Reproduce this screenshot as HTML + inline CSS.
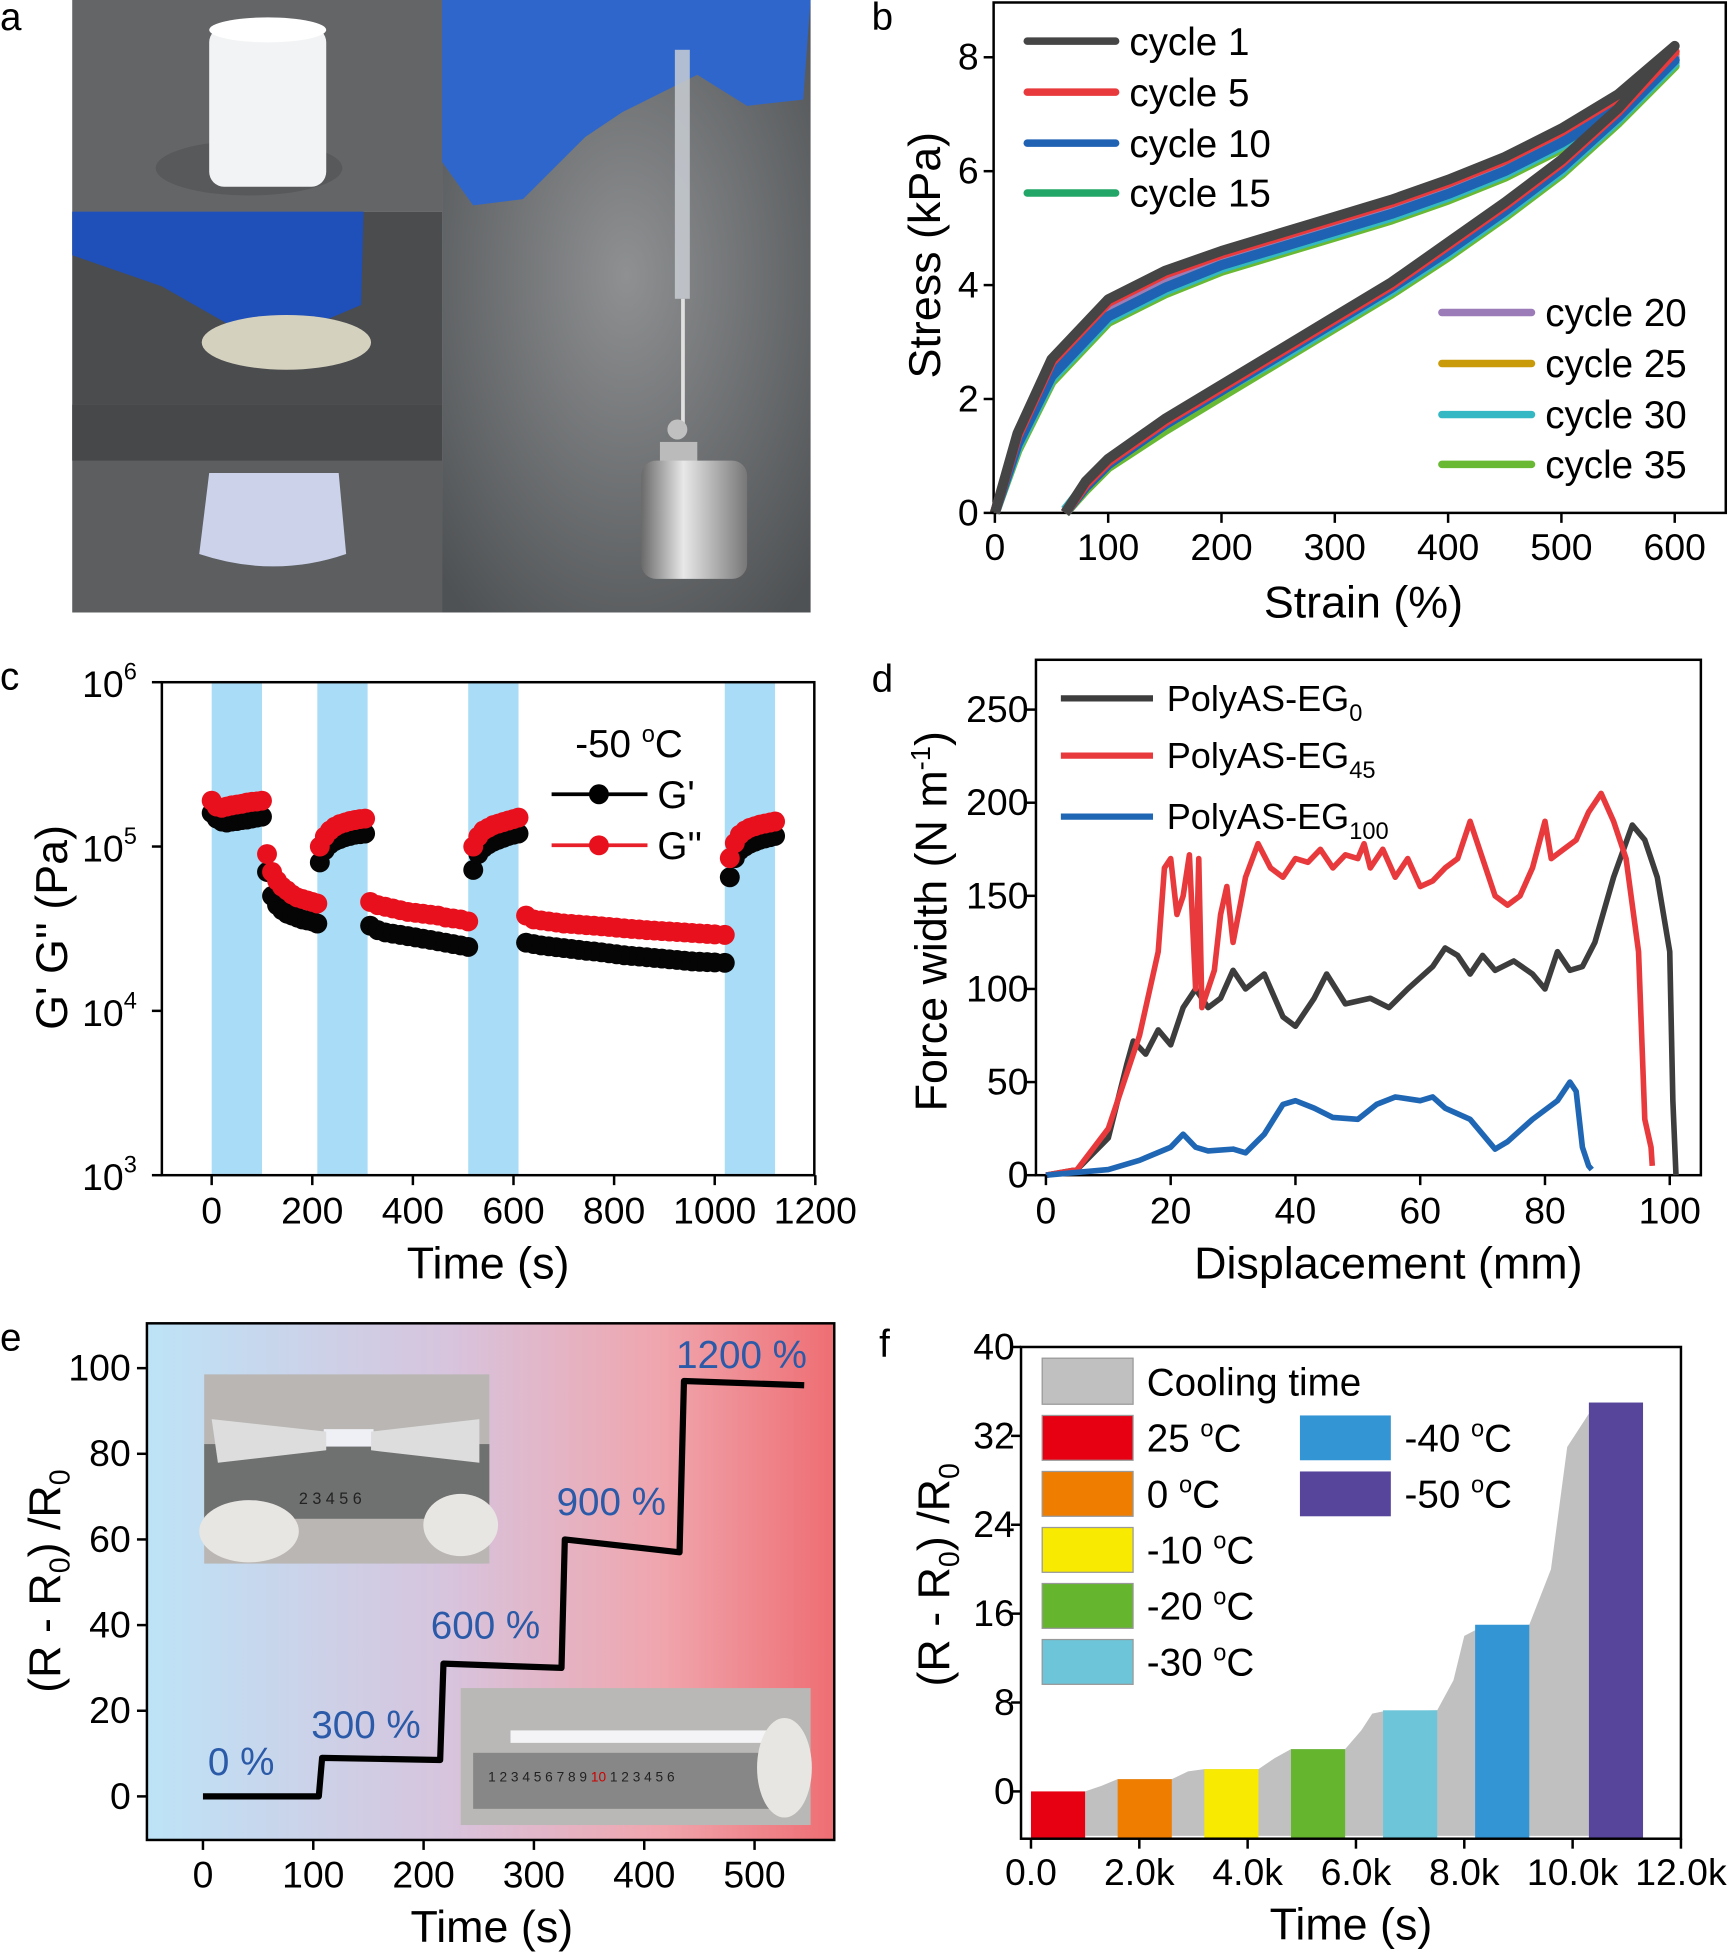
<!DOCTYPE html>
<html><head><meta charset="utf-8"><style>
html,body{margin:0;padding:0;background:#fff;}
svg{display:block;font-family:"Liberation Sans",Arial,sans-serif;}
</style></head><body>
<svg id="fig" xmlns="http://www.w3.org/2000/svg" width="1732" height="1952" viewBox="0 0 1391 1568" preserveAspectRatio="none">
<defs>
<linearGradient id="gradE" x1="0" x2="1" y1="0" y2="0">
<stop offset="0" stop-color="#bde3f7"/><stop offset="0.45" stop-color="#d8c3dc"/><stop offset="0.75" stop-color="#f0a5ad"/><stop offset="1" stop-color="#ee6e73"/></linearGradient>
<radialGradient id="bgR" cx="0.5" cy="0.45" r="0.7"><stop offset="0" stop-color="#8e9092"/><stop offset="1" stop-color="#4f5254"/></radialGradient>
<linearGradient id="metal" x1="0" x2="1"><stop offset="0" stop-color="#6a6a6a"/><stop offset="0.4" stop-color="#e8e8e8"/><stop offset="1" stop-color="#777"/></linearGradient>
</defs>

<text x="0" y="24" font-size="31">a</text>
<text x="700" y="24" font-size="31">b</text>
<text x="0" y="554" font-size="31">c</text>
<text x="700" y="556" font-size="31">d</text>
<text x="0" y="1085" font-size="31">e</text>
<text x="706" y="1090" font-size="31">f</text>

<g>
<rect x="58" y="0" width="297" height="170" fill="#646567"/>
<ellipse cx="200" cy="135" rx="75" ry="22" fill="#58595a"/>
<rect x="168" y="22" width="94" height="128" rx="12" fill="#f2f3f4"/>
<ellipse cx="215" cy="24" rx="47" ry="10" fill="#ffffff"/>
<rect x="58" y="170" width="297" height="155" fill="#4a4c4e"/>
<polygon points="58,170 292,170 290,245 250,262 200,270 130,230 58,205" fill="#1f4fb8"/>
<ellipse cx="230" cy="275" rx="68" ry="22" fill="#d5d1bf"/>
<rect x="58" y="325" width="297" height="167" fill="#5c5e60"/>
<rect x="58" y="325" width="297" height="45" fill="#46484a"/>
<path d="M168,380 L272,380 L278,445 Q220,465 160,445 Z" fill="#cbd2ea"/>
<rect x="355" y="0" width="296" height="492" fill="url(#bgR)"/>
<path d="M355,0 L651,0 L645,80 L600,85 L560,60 L500,90 L470,110 L420,160 L380,165 L355,130 Z" fill="#2f66cc"/>
<rect x="542" y="40" width="12" height="200" fill="#c8ccd2" opacity="0.85"/>
<rect x="547" y="240" width="3" height="100" fill="#e0e0e0"/>
<circle cx="544" cy="345" r="8" fill="#c0c0c0"/>
<rect x="530" y="355" width="30" height="22" fill="#bbb"/>
<rect x="515" y="370" width="85" height="95" rx="12" fill="url(#metal)"/>
</g>

<rect x="798" y="2" width="588" height="410" fill="none" stroke="#000" stroke-width="2"/>
<g id="b-marks"></g>
<g id="b-ticks"></g>
<text transform="translate(755,205) rotate(-90)" text-anchor="middle" font-size="36">Stress (kPa)</text>
<text x="1095" y="496" text-anchor="middle" font-size="36">Strain (%)</text>
<g font-size="31">
<line x1="825" x2="896" y1="33" y2="33" stroke="#454545" stroke-width="6" stroke-linecap="round"/><text x="907" y="44">cycle 1</text>
<line x1="825" x2="896" y1="74" y2="74" stroke="#e83a3c" stroke-width="6" stroke-linecap="round"/><text x="907" y="85">cycle 5</text>
<line x1="825" x2="896" y1="115" y2="115" stroke="#1f62b4" stroke-width="6" stroke-linecap="round"/><text x="907" y="126">cycle 10</text>
<line x1="825" x2="896" y1="155" y2="155" stroke="#22a667" stroke-width="6" stroke-linecap="round"/><text x="907" y="166">cycle 15</text>
<line x1="1158" x2="1230" y1="251" y2="251" stroke="#9b7bb8" stroke-width="6" stroke-linecap="round"/><text x="1241" y="262">cycle 20</text>
<line x1="1158" x2="1230" y1="292" y2="292" stroke="#c99a0a" stroke-width="6" stroke-linecap="round"/><text x="1241" y="303">cycle 25</text>
<line x1="1158" x2="1230" y1="333" y2="333" stroke="#34b8c4" stroke-width="6" stroke-linecap="round"/><text x="1241" y="344">cycle 30</text>
<line x1="1158" x2="1230" y1="373" y2="373" stroke="#6ab934" stroke-width="6" stroke-linecap="round"/><text x="1241" y="384">cycle 35</text>
</g>

<g id="c-bands"></g>
<g id="c-marks"></g>
<rect x="130" y="548" width="524" height="396" fill="none" stroke="#000" stroke-width="2"/>
<g id="c-ticks"></g>
<text transform="translate(54,745) rotate(-90)" text-anchor="middle" font-size="36">G' G'' (Pa)</text>
<text x="392" y="1027" text-anchor="middle" font-size="36">Time (s)</text>
<g font-size="31">
<text x="462" y="608">-50 <tspan font-size="19" dy="-12">o</tspan><tspan dy="12">C</tspan></text>
<line x1="443" x2="520" y1="638" y2="638" stroke="#000" stroke-width="3"/><circle cx="481" cy="638" r="8" fill="#000"/><text x="528" y="649">G'</text>
<line x1="443" x2="520" y1="679" y2="679" stroke="#e8202a" stroke-width="3"/><circle cx="481" cy="679" r="8" fill="#e8101c"/><text x="528" y="690">G''</text>
</g>

<rect x="832" y="530" width="534" height="414" fill="none" stroke="#000" stroke-width="2"/>
<g id="d-marks"></g>
<g id="d-ticks"></g>
<text transform="translate(760,740) rotate(-90)" text-anchor="middle" font-size="36">Force width (N m<tspan font-size="22" dy="-13">-1</tspan><tspan dy="13">)</tspan></text>
<text x="1115" y="1027" text-anchor="middle" font-size="36">Displacement (mm)</text>
<g font-size="29">
<line x1="852" x2="926" y1="561" y2="561" stroke="#3d3d3d" stroke-width="5"/><text x="937" y="571">PolyAS-EG<tspan font-size="19" dy="8">0</tspan></text>
<line x1="852" x2="926" y1="607" y2="607" stroke="#e83a3c" stroke-width="5"/><text x="937" y="617">PolyAS-EG<tspan font-size="19" dy="8">45</tspan></text>
<line x1="852" x2="926" y1="656" y2="656" stroke="#1f67b5" stroke-width="5"/><text x="937" y="666">PolyAS-EG<tspan font-size="19" dy="8">100</tspan></text>
</g>

<rect x="118" y="1063" width="552" height="415" fill="url(#gradE)"/>
<g>
<rect x="164" y="1104" width="229" height="152" fill="#b9b6b4"/>
<rect x="164" y="1160" width="229" height="60" fill="#6f7070"/>
<rect x="260" y="1148" width="40" height="14" fill="#eef0f5"/>
<polygon points="170,1140 262,1150 262,1165 175,1175" fill="#ddd"/>
<polygon points="298,1150 385,1140 385,1175 298,1165" fill="#ddd"/>
<ellipse cx="200" cy="1230" rx="40" ry="25" fill="#e8e6e2"/>
<ellipse cx="370" cy="1225" rx="30" ry="25" fill="#e8e6e2"/>
<text x="240" y="1208" font-size="13" fill="#222">2  3  4  5  6</text>
</g>
<g>
<rect x="370" y="1356" width="281" height="110" fill="#b9b8b6"/>
<rect x="380" y="1408" width="262" height="45" fill="#878787"/>
<rect x="410" y="1390" width="210" height="10" fill="#f4f4f6"/>
<text x="392" y="1431" font-size="11" fill="#222">1  2  3  4  5  6  7  8  9 <tspan fill="#c00">10</tspan> 1  2  3  4  5  6</text>
<ellipse cx="630" cy="1420" rx="22" ry="40" fill="#e8e6e2"/>
</g>
<g id="e-marks"></g>
<rect x="118" y="1063" width="552" height="415" fill="none" stroke="#000" stroke-width="2"/>
<g id="e-ticks"></g>
<g font-size="31" fill="#2a5aa8">
<text x="167" y="1426">0 %</text>
<text x="250" y="1396">300 %</text>
<text x="346" y="1316">600 %</text>
<text x="447" y="1217">900 %</text>
<text x="543" y="1099">1200 %</text>
</g>
<text transform="translate(48,1270) rotate(-90)" text-anchor="middle" font-size="36">(R - R<tspan font-size="23" dy="8">0</tspan><tspan dy="-8">) /R</tspan><tspan font-size="23" dy="8">0</tspan></text>
<text x="395" y="1560" text-anchor="middle" font-size="36">Time (s)</text>

<g id="f-marks"></g>
<rect x="820" y="1082" width="530" height="395" fill="none" stroke="#000" stroke-width="2"/>
<g id="f-ticks"></g>
<g font-size="31">
<rect x="837" y="1091" width="73" height="37" fill="#c0c0c0" stroke="#999"/><text x="921" y="1121">Cooling time</text>
<rect x="837" y="1137" width="73" height="36" fill="#e60012" stroke="#999"/><text x="921" y="1166">25 <tspan font-size="19" dy="-12">o</tspan><tspan dy="12">C</tspan></text>
<rect x="837" y="1182" width="73" height="36" fill="#ef7d00" stroke="#999"/><text x="921" y="1211">0 <tspan font-size="19" dy="-12">o</tspan><tspan dy="12">C</tspan></text>
<rect x="837" y="1227" width="73" height="36" fill="#f8ea00" stroke="#999"/><text x="921" y="1256">-10 <tspan font-size="19" dy="-12">o</tspan><tspan dy="12">C</tspan></text>
<rect x="837" y="1272" width="73" height="36" fill="#65b52e" stroke="#999"/><text x="921" y="1301">-20 <tspan font-size="19" dy="-12">o</tspan><tspan dy="12">C</tspan></text>
<rect x="837" y="1317" width="73" height="36" fill="#6cc5d8" stroke="#999"/><text x="921" y="1346">-30 <tspan font-size="19" dy="-12">o</tspan><tspan dy="12">C</tspan></text>
<rect x="1044" y="1137" width="73" height="36" fill="#3395d4"/><text x="1128" y="1166">-40 <tspan font-size="19" dy="-12">o</tspan><tspan dy="12">C</tspan></text>
<rect x="1044" y="1182" width="73" height="36" fill="#56459a"/><text x="1128" y="1211">-50 <tspan font-size="19" dy="-12">o</tspan><tspan dy="12">C</tspan></text>
</g>
<text transform="translate(762,1265) rotate(-90)" text-anchor="middle" font-size="36">(R - R<tspan font-size="23" dy="8">0</tspan><tspan dy="-8">) /R</tspan><tspan font-size="23" dy="8">0</tspan></text>
<text x="1085" y="1558" text-anchor="middle" font-size="36">Time (s)</text>
</svg>

<script>
const bLoadStrain = [0,20,50,100,150,200,250,300,350,400,450,500,550,600];
const bUnloadStrain = [600,550,500,450,400,350,300,250,200,150,100,80,62];
const bCycles = ['cycle 35','cycle 30','cycle 25','cycle 20','cycle 15','cycle 10','cycle 5','cycle 1'];
const bColors = ['#6ab934','#34b8c4','#c99a0a','#9b7bb8','#22a667','#1f62b4','#e83a3c','#454545'];
const bLoad1 = [0,1.4,2.7,3.75,4.25,4.6,4.9,5.2,5.5,5.85,6.25,6.75,7.35,8.2];
const bLoad5 = [0,1.35,2.65,3.7,4.2,4.55,4.85,5.15,5.45,5.8,6.2,6.7,7.3,8.1];
const bLoad10 = [0,1.2,2.4,3.45,3.95,4.35,4.65,4.95,5.25,5.6,6.0,6.5,7.1,7.95];
const bLoad15 = [0,1.2,2.4,3.45,3.95,4.35,4.65,4.95,5.25,5.6,6.0,6.5,7.1,7.95];
const bLoad20 = [0,1.25,2.5,3.55,4.05,4.45,4.75,5.05,5.35,5.7,6.1,6.6,7.2,8.0];
const bLoad25 = [0,1.3,2.55,3.6,4.1,4.45,4.75,5.05,5.35,5.7,6.1,6.6,7.2,8.05];
const bLoad30 = [0,1.15,2.35,3.4,3.9,4.3,4.6,4.9,5.2,5.55,5.95,6.45,7.05,7.9];
const bLoad35 = [0,1.1,2.3,3.35,3.85,4.25,4.55,4.85,5.15,5.5,5.9,6.4,7.0,7.85];
const bUnload1 = [8.2,7.1,6.2,5.45,4.75,4.05,3.45,2.85,2.25,1.65,0.95,0.55,0];
const bUnload5 = [8.1,7.05,6.15,5.4,4.7,4.0,3.4,2.8,2.2,1.6,0.9,0.5,0];
const bUnload10 = [7.95,6.95,6.05,5.3,4.6,3.95,3.35,2.75,2.15,1.55,0.85,0.45,0];
const bUnload15 = [7.95,6.95,6.05,5.3,4.6,3.95,3.35,2.75,2.15,1.55,0.85,0.45,0];
const bUnload20 = [8.0,7.0,6.1,5.35,4.65,4.0,3.4,2.8,2.2,1.6,0.9,0.5,0];
const bUnload25 = [8.05,7.0,6.1,5.35,4.65,4.0,3.4,2.8,2.2,1.6,0.9,0.5,0];
const bUnload30 = [7.9,6.9,6.0,5.25,4.55,3.9,3.3,2.7,2.15,1.55,0.9,0.5,0.05];
const bUnload35 = [7.85,6.85,5.95,5.2,4.5,3.85,3.25,2.65,2.05,1.45,0.8,0.4,0];
const bLoads = [bLoad35,bLoad30,bLoad25,bLoad20,bLoad15,bLoad10,bLoad5,bLoad1];
const bUnloads = [bUnload35,bUnload30,bUnload25,bUnload20,bUnload15,bUnload10,bUnload5,bUnload1];
const bXTicks = [0,100,200,300,400,500,600];
const bYTicks = [0,2,4,6,8];

const cBands = [[0,100],[210,310],[510,610],[1020,1120]];
const cTime = [0,10,20,30,40,50,60,70,80,90,100,
 110,120,130,140,150,160,170,180,190,200,210,
 215,225,235,245,255,265,275,285,295,305,
 315,330,345,360,375,390,405,420,435,450,465,480,495,510,
 520,530,540,550,560,570,580,590,600,610,
 625,640,655,670,685,700,715,730,745,760,775,790,805,820,835,850,865,880,895,910,925,940,955,970,985,1000,1020,
 1030,1040,1050,1060,1070,1080,1090,1100,1110,1120];
const cGpp = [190,175,172,175,178,180,182,185,187,188,190,
 90,70,62,57,54,51,49,48,47,46,45,
 100,115,125,132,137,140,143,145,147,148,
 46,44,43,42,41,40,39.5,39,38.5,38,37,36.5,36,35,
 100,115,125,130,135,138,141,144,147,150,
 38,36,35.5,35,34.5,34,33.8,33.5,33.2,33,32.7,32.4,32.1,31.8,31.5,31.3,31,30.8,30.6,30.4,30.2,30,29.8,29.6,29.4,29.2,29,
 85,105,118,125,130,133,136,138,140,142];
const cGp = [160,148,142,140,142,143,145,146,148,150,152,
 70,50,44,41,39,38,37,36,35.5,35,34,
 80,95,103,108,111,114,116,118,119,120,
 33,31,30,29.5,29,28.5,28,27.5,27,26.5,26,25.5,25,24.5,
 72,90,98,103,107,110,113,116,118,120,
 26,25.5,25,24.7,24.4,24.1,23.8,23.5,23.2,23,22.7,22.4,22.1,21.8,21.6,21.4,21.2,21,20.8,20.6,20.4,20.2,20,19.9,19.8,19.7,19.6,
 65,85,95,100,104,107,110,112,114,116];
const cXTicks = [0,200,400,600,800,1000,1200];
const cYTicks = [3,4,5,6];

const dX0 = [0,5,10,13,14,16,18,20,22,24,26,28,30,32,35,38,40,43,45,48,52,55,58,62,64,66,68,70,72,75,78,80,82,84,86,88,91,94,96,98,100,100.5,101];
const dY0 = [0,3,20,60,72,65,78,70,90,100,90,95,110,100,108,85,80,95,108,92,95,90,100,112,122,118,108,118,110,115,108,100,120,110,112,125,160,188,180,160,120,40,0];
const dX45 = [0,5,10,15,18,19,20,21,22,23,24,24.5,25,27,28,29,30,32,34,36,38,40,42,44,46,48,50,51,52,54,56,58,60,62,64,66,68,70,72,74,76,78,80,81,83,85,87,89,91,93,95,96,97,97.2];
const dY45 = [0,3,25,75,120,165,170,140,150,172,100,170,90,110,140,155,125,160,178,165,160,170,168,175,165,172,170,178,165,175,160,170,155,158,165,170,190,170,150,145,150,165,190,170,175,180,195,205,190,170,120,30,15,5];
const dX100 = [0,10,15,20,22,24,26,30,32,35,38,40,43,46,50,53,56,60,62,64,68,70,72,74,78,82,84,85,86,87,87.5];
const dY100 = [0,3,8,15,22,15,13,14,12,22,38,40,36,31,30,38,42,40,42,36,30,22,14,18,30,40,50,45,15,5,3];
const dXTicks = [0,20,40,60,80,100];
const dYTicks = [0,50,100,150,200,250];

const eTime = [0,105,108,215,218,325,328,432,436,545];
const eResp = [0,0,9,8.5,31,30,60,57,97,96];
const eXTicks = [0,100,200,300,400,500];
const eYTicks = [0,20,40,60,80,100];

const fCoolT = [1000,1300,1600,2600,2900,3200,4200,4500,4800,5800,6100,6300,6500,7500,7800,8000,8200,9200,9600,9900,10300];
const fCoolV = [0,0.5,1.1,1.1,1.8,2.0,2.0,3.0,3.8,3.8,5.5,7.0,7.2,7.3,10,14,14.5,15,20,31,34];
const fBarStart = [0,1600,3200,4800,6500,8200,10300];
const fBarEnd = [1000,2600,4200,5800,7500,9200,11300];
const fBarValue = [0,1.1,2.0,3.8,7.3,15,35];
const fBarColors = ['#e60012','#ef7d00','#f8ea00','#65b52e','#6cc5d8','#3395d4','#56459a'];
const fBarNames = ['bar-25c','bar-0c','bar-m10c','bar-m20c','bar-m30c','bar-m40c','bar-m50c'];
const fXTicks = [0,2000,4000,6000,8000,10000,12000];
const fXLabels = ['0.0','2.0k','4.0k','6.0k','8.0k','10.0k','12.0k'];
const fYTicks = [0,8,16,24,32,40];

const NS = 'http://www.w3.org/2000/svg';
function mk(tag, attrs, parent){
  const e = document.createElementNS(NS, tag);
  for (const k in attrs) e.setAttribute(k, attrs[k]);
  parent.appendChild(e);
  return e;
}
const $ = id => document.getElementById(id);
const TS = 30;

const bx = v => 799 + v*0.91, by = v => 412 - v*45.75;
const cx = t => 170 + t*0.404, cy = v => 944 - (Math.log10(v*1000)-3)*132;
const cyExp = e => 944 - (e-3)*132;
const dx = v => 840 + v*5.01, dy = v => 944 - v*1.496;
const ex = v => 163 + v*0.886, ey = v => 1443 - v*3.44;
const fx = v => 828 + v*0.0435, fy = v => 1439 - v*8.925;

bCycles.forEach((name,i)=>{
  const pts = bLoadStrain.map((s,j)=>bx(s)+','+by(bLoads[i][j])).concat(
              bUnloadStrain.map((s,j)=>bx(s)+','+by(bUnloads[i][j]))).join(' ');
  const pl = mk('polyline',{points:pts,fill:'none',stroke:bColors[i],'stroke-width':8,'stroke-linejoin':'round'},$('b-marks'));
  
  
});
bXTicks.forEach(v=>{
  const t = mk('line',{x1:bx(v),x2:bx(v),y1:412,y2:420,stroke:'#000','stroke-width':2},$('b-ticks'));
  
  
  const l = mk('text',{x:bx(v),y:450,'text-anchor':'middle','font-size':TS},$('b-ticks'));
  l.textContent = v;
  
  
});
bYTicks.forEach(v=>{
  const t = mk('line',{x1:790,x2:798,y1:by(v),y2:by(v),stroke:'#000','stroke-width':2},$('b-ticks'));
  
  
  const l = mk('text',{x:786,y:by(v)+10,'text-anchor':'end','font-size':TS},$('b-ticks'));
  l.textContent = v;
  
  
});

cBands.forEach(b=>{
  const r = mk('rect',{x:cx(b[0]),y:549,width:cx(b[1])-cx(b[0]),height:394,fill:'#a9dcf6'},$('c-bands'));
  
  
});
cTime.forEach((t,i)=>{
  const d = mk('circle',{cx:cx(t),cy:cy(cGp[i]),r:8,fill:'#050505'},$('c-marks'));
  
  
});
cTime.forEach((t,i)=>{
  const d = mk('circle',{cx:cx(t),cy:cy(cGpp[i]),r:8,fill:'#e8101c'},$('c-marks'));
  
  
});
cXTicks.forEach(v=>{
  const t = mk('line',{x1:cx(v),x2:cx(v),y1:944,y2:952,stroke:'#000','stroke-width':2},$('c-ticks'));
  
  
  const l = mk('text',{x:cx(v),y:983,'text-anchor':'middle','font-size':TS},$('c-ticks'));
  l.textContent = v;
  
  
});
cYTicks.forEach(e=>{
  const t = mk('line',{x1:122,x2:130,y1:cyExp(e),y2:cyExp(e),stroke:'#000','stroke-width':2},$('c-ticks'));
  
  
  const l = mk('text',{x:66,y:cyExp(e)+12,'font-size':TS},$('c-ticks'));
  l.innerHTML = '10<tspan font-size="19" dy="-14">'+e+'</tspan>';
  
  
});

[[dX0,dY0,'#3d3d3d','curve-eg0'],[dX45,dY45,'#e83a3c','curve-eg45'],[dX100,dY100,'#1f67b5','curve-eg100']].forEach(s=>{
  const pts = s[0].map((x,j)=>dx(x)+','+dy(s[1][j])).join(' ');
  const pl = mk('polyline',{points:pts,fill:'none',stroke:s[2],'stroke-width':4.5,'stroke-linejoin':'round'},$('d-marks'));
  
  
});
dXTicks.forEach(v=>{
  const t = mk('line',{x1:dx(v),x2:dx(v),y1:944,y2:952,stroke:'#000','stroke-width':2},$('d-ticks'));
  
  
  const l = mk('text',{x:dx(v),y:983,'text-anchor':'middle','font-size':TS},$('d-ticks'));
  l.textContent = v;
  
  
});
dYTicks.forEach(v=>{
  const t = mk('line',{x1:824,x2:832,y1:dy(v),y2:dy(v),stroke:'#000','stroke-width':2},$('d-ticks'));
  
  
  const l = mk('text',{x:826,y:dy(v)+10,'text-anchor':'end','font-size':TS},$('d-ticks'));
  l.textContent = v;
  
  
});

{
  const pts = eTime.map((t,j)=>ex(t)+','+ey(eResp[j])).join(' ');
  const pl = mk('polyline',{points:pts,fill:'none',stroke:'#000','stroke-width':5,'stroke-linejoin':'round'},$('e-marks'));
  
  
}
eXTicks.forEach(v=>{
  const t = mk('line',{x1:ex(v),x2:ex(v),y1:1478,y2:1486,stroke:'#000','stroke-width':2},$('e-ticks'));
  
  
  const l = mk('text',{x:ex(v),y:1516,'text-anchor':'middle','font-size':TS},$('e-ticks'));
  l.textContent = v;
  
  
});
eYTicks.forEach(v=>{
  const t = mk('line',{x1:110,x2:118,y1:ey(v),y2:ey(v),stroke:'#000','stroke-width':2},$('e-ticks'));
  
  
  const l = mk('text',{x:105,y:ey(v)+10,'text-anchor':'end','font-size':TS},$('e-ticks'));
  l.textContent = v;
  
  
});

{
  const pts = [fx(fCoolT[0])+','+fy(-4)].concat(fCoolT.map((t,j)=>fx(t)+','+fy(fCoolV[j])))
    .concat([fx(fBarStart[fBarStart.length-1])+','+fy(-4)]).join(' ');
  const pg = mk('polygon',{points:pts,fill:'#c0c0c0'},$('f-marks'));
  
  
}
fBarStart.forEach((s,i)=>{
  const top = Math.max(fBarValue[i],0);
  const r = mk('rect',{x:fx(s),y:fy(top),width:fx(fBarEnd[i])-fx(s),height:fy(-4)-fy(top)+2,fill:fBarColors[i]},$('f-marks'));
  
  
});
fXTicks.forEach((v,i)=>{
  const t = mk('line',{x1:fx(v),x2:fx(v),y1:1477,y2:1485,stroke:'#000','stroke-width':2},$('f-ticks'));
  
  
  const l = mk('text',{x:fx(v),y:1514,'text-anchor':'middle','font-size':TS},$('f-ticks'));
  l.textContent = fXLabels[i];
  
  
});
fYTicks.forEach(v=>{
  const t = mk('line',{x1:812,x2:820,y1:fy(v),y2:fy(v),stroke:'#000','stroke-width':2},$('f-ticks'));
  
  
  const l = mk('text',{x:815,y:fy(v)+10,'text-anchor':'end','font-size':TS},$('f-ticks'));
  l.textContent = v;
  
  
});
</script>
</body></html>
